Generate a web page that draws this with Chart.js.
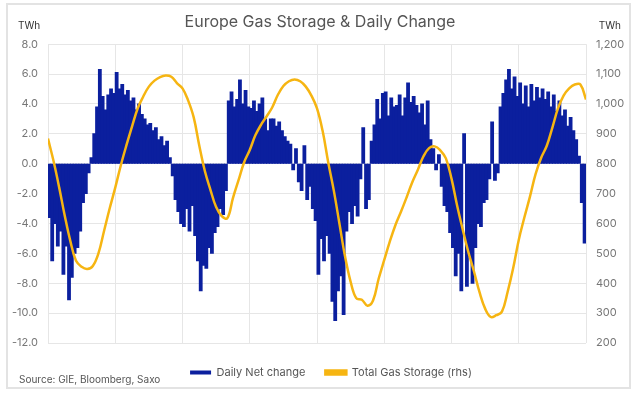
<!DOCTYPE html>
<html>
<head>
<meta charset="utf-8">
<script src="https://cdn.jsdelivr.net/npm/chart.js@4.4.1/dist/chart.umd.min.js"></script>
<style>
html,body{margin:0;padding:0;background:#fff;}
</style>
</head>
<body>
<canvas id="gasChart" width="640" height="394"></canvas>
<script>
// x axis: months since Dec-18, gridline every 6 months
const tickLabels = ['Dec-18','Jun-19','Dec-19','Jun-20','Dec-20','Jun-21','Dec-21','Jun-22','Dec-22'];

// daily net change (TWh), four readings per month, Dec-18 .. Nov-22
const dailyChange = [
  -3.6,-6.5,-4.0,-5.5,  -4.5,-7.4,-5.5,-9.1,  -7.6,-6.0,-5.6,-4.5,  -2.6,-2.0,-0.6,0.4,
  2.0,3.8,6.3,4.5,  3.6,4.6,5.0,4.7,  6.1,5.0,5.3,4.6,  4.9,4.2,4.4,3.6,
  4.0,3.3,3.0,2.6,  2.7,2.2,2.4,1.6,  1.8,1.2,1.5,0.4,  -0.8,-2.4,-3.2,-4.0,
  -4.2,-3.0,-4.5,-2.8,  -4.8,-6.5,-8.5,-6.8,  -7.0,-5.6,-6.0,-4.6,  -4.2,-3.0,-3.4,-1.8,
  4.2,4.8,3.8,4.3,  5.6,4.0,4.9,3.8,  3.7,4.2,3.5,4.0,  4.4,3.0,2.2,3.0,
  3.0,2.5,2.8,2.2,  1.8,1.5,1.3,-0.4,  1.0,-1.2,-1.8,1.2,  -2.4,-1.5,-3.0,-3.8,
  -7.4,-5.0,-6.5,-4.8,  -6.0,-9.2,-10.5,-8.5,  -7.5,-10.1,-4.5,-3.2,  -4.0,-2.8,-3.5,-1.0,
  2.4,-3.0,-2.4,1.5,  2.6,4.3,3.0,4.7,  4.8,3.2,4.4,3.8,  3.9,4.6,3.2,4.4,
  5.4,4.1,4.5,3.9,  3.4,4.0,2.6,4.2,  1.6,1.0,-0.4,0.6,  -1.5,-2.8,-3.2,-4.6,
  -5.6,-7.5,-6.0,-8.5,  2.0,-8.2,-6.2,-8.0,  -5.6,-4.0,-4.2,-2.6,  -2.4,-1.0,2.8,-1.1,
  -0.6,3.8,4.7,5.6,  6.3,5.0,5.8,4.5,  5.4,4.0,5.2,3.8,  5.3,4.2,5.1,4.4,
  5.0,4.3,4.8,3.8,  4.6,3.5,4.2,3.2,  3.6,2.5,3.1,2.2,  1.6,0.5,-2.6,-5.3
];

// total gas storage (TWh, rhs), twice a month, Dec-18 .. Dec-22
const totalStorage = [
  884,808,720,625,540,475,455,448,458,500,575,650,
  720,795,862,925,985,1025,1058,1078,1090,1095,1091,1070,
  1052,1012,955,860,775,712,655,625,618,685,745,805,
  846,895,930,958,988,1030,1060,1076,1082,1076,1058,1028,
  985,910,805,710,600,490,405,350,345,325,342,415,
  478,540,595,640,688,738,780,825,852,858,845,818,
  750,660,580,505,440,370,315,287,293,305,370,450,
  545,620,690,765,820,860,921,985,1028,1052,1065,1065,
  1015
];

const barPoints = dailyChange.map((v, i) => ({ x: (i + 0.5) / 4, y: v }));
const linePoints = totalStorage.map((v, i) => ({ x: i / 2, y: v }));

Chart.defaults.font.family = "Inter, 'Noto Sans', sans-serif";

const extras = {
  id: 'extras',
  afterLayout(chart) {
    // legend row carries a trailing padding, nudge it back to centre
    chart.legend.left += 11;
    chart.legend.right += 11;
  },
  beforeDraw(chart) {
    const ctx = chart.ctx;
    ctx.save();
    ctx.strokeStyle = '#e3e3e3';
    ctx.lineWidth = 2;
    ctx.strokeRect(7, 4, 623, 384);
    ctx.restore();
  },
  afterDraw(chart) {
    const ctx = chart.ctx;
    ctx.save();
    ctx.fillStyle = '#333';
    ctx.font = "10px Inter, 'Noto Sans', sans-serif";
    ctx.textBaseline = 'middle';
    ctx.textAlign = 'left';
    ctx.fillText('TWh', 18, 26);
    ctx.textAlign = 'right';
    ctx.fillText('TWh', 621, 26);
    ctx.fillStyle = '#555';
    ctx.font = "10px Inter, 'Noto Sans', sans-serif";
    ctx.textAlign = 'left';
    ctx.fillText('Source: GIE, Bloomberg, Saxo', 19, 380);
    ctx.restore();
  }
};

new Chart(document.getElementById('gasChart'), {
  type: 'bar',
  data: {
    datasets: [
      {
        type: 'bar',
        label: 'Daily Net change',
        data: barPoints,
        backgroundColor: '#0b1f9e',
        borderWidth: 0,
        inflateAmount: 0.5,
        barPercentage: 1,
        categoryPercentage: 1,
        yAxisID: 'y',
        order: 2
      },
      {
        type: 'line',
        label: 'Total Gas Storage (rhs)',
        data: linePoints,
        borderColor: '#f6b512',
        backgroundColor: '#f6b512',
        borderWidth: 2.5,
        pointRadius: 0,
        tension: 0.4,
        yAxisID: 'y1',
        order: 1
      }
    ]
  },
  options: {
    responsive: false,
    devicePixelRatio: 1,
    animation: false,
    layout: { padding: { top: 5, left: 0, right: 0, bottom: 6 } },
    plugins: {
      title: {
        display: true,
        text: 'Europe Gas Storage & Daily Change',
        color: '#555',
        font: { size: 16, weight: 'normal' },
        padding: { top: 8, bottom: 12 }
      },
      legend: {
        position: 'bottom',
        labels: {
          color: '#555',
          font: { size: 11 },
          boxWidth: 21,
          boxHeight: 4,
          padding: 20,
          sort: (a, b) => a.datasetIndex - b.datasetIndex
        }
      },
      tooltip: { enabled: false }
    },
    scales: {
      x: {
        type: 'linear',
        min: 0,
        max: 48,
        offset: false,
        grid: { color: '#e6e6e6', offset: false, drawTicks: false },
        border: { display: false },
        ticks: {
          stepSize: 6,
          color: '#777',
          font: { size: 11 },
          padding: 7,
          maxRotation: 0,
          callback: (v) => tickLabels[v / 6]
        },
        afterFit: (s) => { s.height = 4; }
      },
      y: {
        position: 'left',
        min: -12,
        max: 8,
        grid: { color: '#e6e6e6', drawTicks: false },
        border: { display: false },
        ticks: {
          stepSize: 2,
          color: '#777',
          font: { size: 11 },
          padding: 10,
          callback: (v) => v.toFixed(1)
        },
        afterFit: (s) => { s.width = 48; }
      },
      y1: {
        position: 'right',
        min: 200,
        max: 1200,
        grid: { drawOnChartArea: false, drawTicks: false },
        border: { display: false },
        ticks: {
          stepSize: 100,
          color: '#777',
          font: { size: 11 },
          padding: 10,
          callback: (v) => v.toLocaleString('en-US')
        },
        afterFit: (s) => { s.width = 54; }
      }
    }
  },
  plugins: [extras]
});
</script>
</body>
</html>
